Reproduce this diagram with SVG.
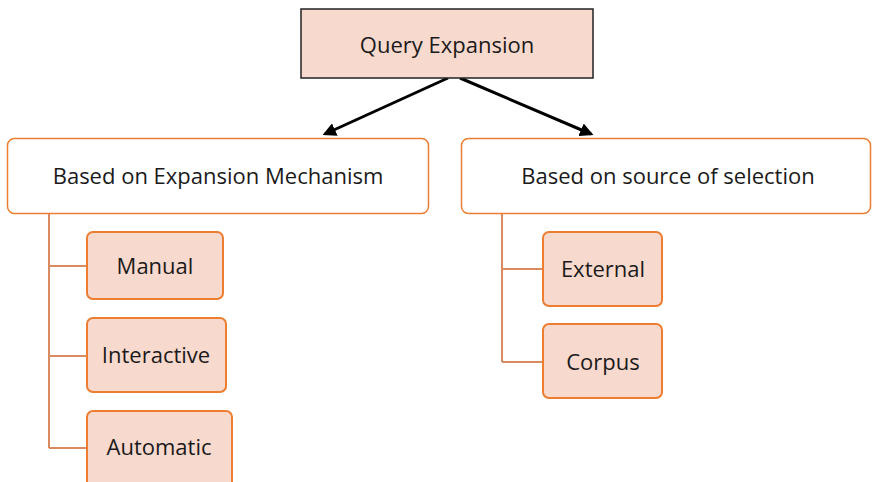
<svg xmlns="http://www.w3.org/2000/svg" width="872" height="482" viewBox="0 0 872 482">
<style>
text{font-family:"Open Sans","Liberation Sans",sans-serif;font-size:22px;fill:#1a1a1a;text-anchor:middle;dominant-baseline:central}
.leaf{fill:#F8D9CE;stroke:#ED7D31;stroke-width:2}
.cat{fill:#fff;stroke:#ED7D31;stroke-width:1.5}
.tree{fill:none;stroke:#D98A5E;stroke-width:2}
.arr{stroke:#000;stroke-width:3;fill:none}
</style>
<defs>
<marker id="ah" viewBox="0 0 10 10" refX="8" refY="5" markerWidth="4.5" markerHeight="4.5" orient="auto" markerUnits="strokeWidth">
<path d="M0,0 L10,5 L0,10 z" fill="#000"/>
</marker>
</defs>
<rect width="872" height="482" fill="#fff"/>
<g id="connectors">
<line class="arr" x1="448" y1="78" x2="325" y2="134" marker-end="url(#ah)"/>
<line class="arr" x1="460" y1="78" x2="591" y2="134" marker-end="url(#ah)"/>
<path class="tree" d="M49,213 V448 M49,266 H87 M49,356 H87 M49,448 H87"/>
<path class="tree" d="M502,213 V362 M502,269 H543 M502,362 H543"/>
</g>
<g id="query-expansion">
<rect x="301" y="9" width="292" height="69" fill="#F8D9CE" stroke="#222" stroke-width="1.5"/>
<text x="447" y="44">Query Expansion</text>
</g>
<g id="mechanism">
<rect class="cat" x="7.5" y="138.5" width="421" height="75" rx="7"/>
<text x="218" y="175">Based on Expansion Mechanism</text>
</g>
<g id="source">
<rect class="cat" x="461.5" y="138.5" width="409" height="75" rx="7"/>
<text x="668" y="175">Based on source of selection</text>
</g>
<g id="manual">
<rect class="leaf" x="87" y="232" width="136" height="67" rx="6"/>
<text x="155" y="265">Manual</text>
</g>
<g id="interactive">
<rect class="leaf" x="87" y="318" width="139" height="74" rx="6"/>
<text x="156" y="354">Interactive</text>
</g>
<g id="automatic">
<rect class="leaf" x="87" y="411" width="145" height="80" rx="6"/>
<text x="159" y="446">Automatic</text>
</g>
<g id="external">
<rect class="leaf" x="543" y="232" width="119" height="74" rx="6"/>
<text x="603" y="268">External</text>
</g>
<g id="corpus">
<rect class="leaf" x="543" y="324" width="119" height="74" rx="6"/>
<text x="603" y="361">Corpus</text>
</g>
</svg>
